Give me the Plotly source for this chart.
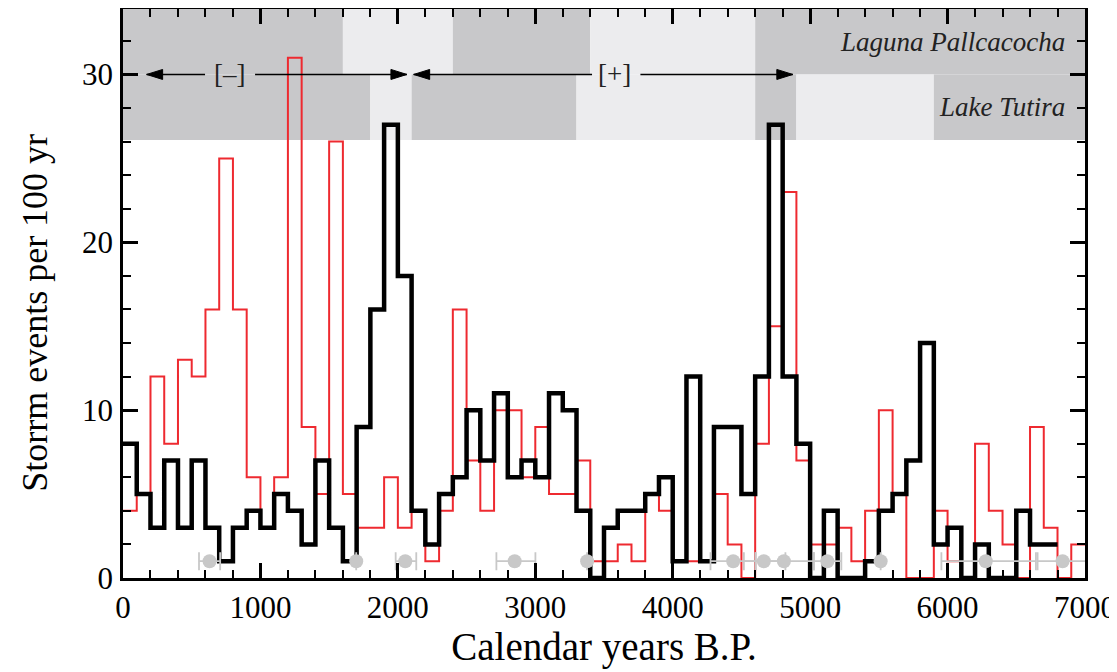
import plotly.graph_objects as go

# ---------------- data ----------------
BIN = 100  # years per bin

# Red series: 100-yr storm-event counts, bins starting at 0 BP (70 bins, 0-7000)
red_counts = [4, 5, 12, 8, 13, 12, 16, 25, 16, 6,
              3, 6, 31, 9, 5, 26, 5, 3, 3, 6,
              3, 4, 1, 4, 16, 7, 4, 10, 10, 6,
              9, 5, 5, 7, 1, 1, 2, 1, 5, 4,
              1, 1, 1, 5, 2, 0, 8, 15, 23, 7,
              2, 2, 3, 1, 4, 10, 5, 0, 0, 4,
              1, 0, 8, 4, 2, 0, 9, 3, 0, 2]

# Black series: 100-yr storm-event counts (68 bins, 0-6800)
black_counts = [8, 5, 3, 7, 3, 7, 3, 1, 3, 4,
                3, 5, 4, 2, 7, 3, 1, 9, 16, 27,
                18, 4, 2, 5, 6, 10, 7, 11, 6, 7,
                6, 11, 10, 4, 0, 3, 4, 4, 5, 6,
                1, 12, 1, 9, 9, 5, 12, 27, 12, 8,
                0, 4, 0, 0, 1, 4, 5, 7, 14, 2,
                3, 0, 2, 0, 0, 4, 2, 2]

# Gray dated points with horizontal age uncertainty
date_ages = [630, 1697, 2054, 2850, 3377, 4440, 4663, 4809, 5125, 5513, 6278, 6837]
date_level = [1] * len(date_ages)
date_err_minus = [77, 0, 70, 133, 0, 165, 145, 206, 97, 0, 323, 182]
date_err_plus = [77, 0, 80, 151, 0, 163, 157, 219, 102, 0, 365, 182]

# Shaded phase bands
pallca_edges = [0, 1600, 2400, 3400, 4600, 7000]
pallca_shade = ["dark", "light", "dark", "light", "dark"]
tutira_edges = [0, 1800, 2100, 3300, 4600, 4900, 5900, 7000]
tutira_shade = ["dark", "light", "dark", "light", "dark", "light", "dark"]
band_tutira = (26.1, 30.0)
band_pallca = (30.0, 33.9)

# Phase arrows: (tail, tip) in years at y=30
phase_arrows = [(597, 172), (961, 2066), (3413, 2115), (3765, 4874)]
phase_labels = [("[\u2013]", 774), ("[+]", 3576)]

# ---------------- styling ----------------
SERIF = "Liberation Serif, Times New Roman, serif"
RED = "#ee2a30"
DARK = "#c8c8ca"
LIGHT = "#ececee"
GRAY = "#c8c8c8"
shade_col = {"dark": DARK, "light": LIGHT}

fig = go.Figure()


def steps(counts):
    xs = [i * BIN for i in range(len(counts) + 1)]
    ys = list(counts) + [counts[-1]]
    return xs, ys


rx, ry = steps(red_counts)
fig.add_trace(go.Scatter(x=rx, y=ry, mode="lines", line=dict(color=RED, width=2, shape="hv"),
                         showlegend=False, hoverinfo="skip"))
bx, by = steps(black_counts)
fig.add_trace(go.Scatter(x=bx, y=by, mode="lines", line=dict(color="black", width=4.5, shape="hv"),
                         showlegend=False, hoverinfo="skip"))
fig.add_trace(go.Scatter(
    x=date_ages, y=date_level, mode="markers",
    marker=dict(color=GRAY, size=14),
    error_x=dict(type="data", symmetric=False, array=date_err_plus, arrayminus=date_err_minus,
                 color=GRAY, thickness=1.8, width=9),
    showlegend=False, hoverinfo="skip"))

shapes = []
for edges, shade, (y0, y1) in [(pallca_edges, pallca_shade, band_pallca),
                               (tutira_edges, tutira_shade, band_tutira)]:
    for i, s in enumerate(shade):
        shapes.append(dict(type="rect", xref="x", yref="y", x0=edges[i], x1=edges[i + 1],
                           y0=y0, y1=y1, fillcolor=shade_col[s], line=dict(width=0), layer="below"))

for tail, tip in phase_arrows:
    direction = 1 if tip > tail else -1
    shapes.append(dict(type="line", xref="x", yref="y", x0=tail, x1=tip, y0=30, y1=30,
                       line=dict(color="black", width=1.6), layer="above"))
    # arrowhead drawn in pixels around the tip
    shapes.append(dict(type="path", xref="x", yref="y", xsizemode="pixel", ysizemode="pixel",
                       xanchor=tip, yanchor=30,
                       path=f"M0,0 L{-direction*16},5 L{-direction*16},-5 Z",
                       fillcolor="black", line=dict(color="black", width=1), layer="above"))

annotations = []
for txt, xpos in phase_labels:
    annotations.append(dict(x=xpos, y=30, xref="x", yref="y", text=txt, showarrow=False,
                            font=dict(family=SERIF, size=27, color="#222"), bgcolor="rgba(0,0,0,0)"))
annotations.append(dict(x=6872, y=31.95, xref="x", yref="y", text="<i>Laguna Pallcacocha</i>",
                        showarrow=False, xanchor="right", font=dict(family=SERIF, size=27, color="#222")))
annotations.append(dict(x=6872, y=28.05, xref="x", yref="y", text="<i>Lake Tutira</i>",
                        showarrow=False, xanchor="right", font=dict(family=SERIF, size=27, color="#222")))
# y-axis title (placed as rotated text, slightly below the axis middle as in the reference)
annotations.append(dict(x=-0.0915, y=0.466, xref="paper", yref="paper", text="Storrm events per 100 yr",
                        textangle=-90, showarrow=False, xanchor="center", yanchor="middle",
                        font=dict(family=SERIF, size=36, color="black")))

axis_common = dict(showline=True, linewidth=2.5, linecolor="black", mirror="ticks",
                   ticks="inside", tickwidth=2.5, ticklen=15, tickcolor="black",
                   showgrid=False, zeroline=False, automargin=False,
                   tickfont=dict(family=SERIF, size=31, color="black"))

# The page body adds an 8px offset, so the figure is sized/margined to compensate.
fig.update_layout(
    width=1109, height=664,
    margin=dict(l=115, r=32, t=1, b=94),
    paper_bgcolor="white", plot_bgcolor="white",
    shapes=shapes, annotations=annotations,
    xaxis=dict(range=[0, 7000], tick0=0, dtick=1000,
               minor=dict(dtick=200, ticks="inside", ticklen=8, tickwidth=2, tickcolor="black"),
               ticklabelstandoff=0,
               title=dict(text="Calendar years B.P.", font=dict(family=SERIF, size=39, color="black"),
                          standoff=7),
               **axis_common),
    yaxis=dict(range=[0, 33.9], tick0=0, dtick=10,
               minor=dict(dtick=2, ticks="inside", ticklen=8, tickwidth=2, tickcolor="black"),
               ticklabelstandoff=1,
               **axis_common),
)

fig.write_html("out.html")
